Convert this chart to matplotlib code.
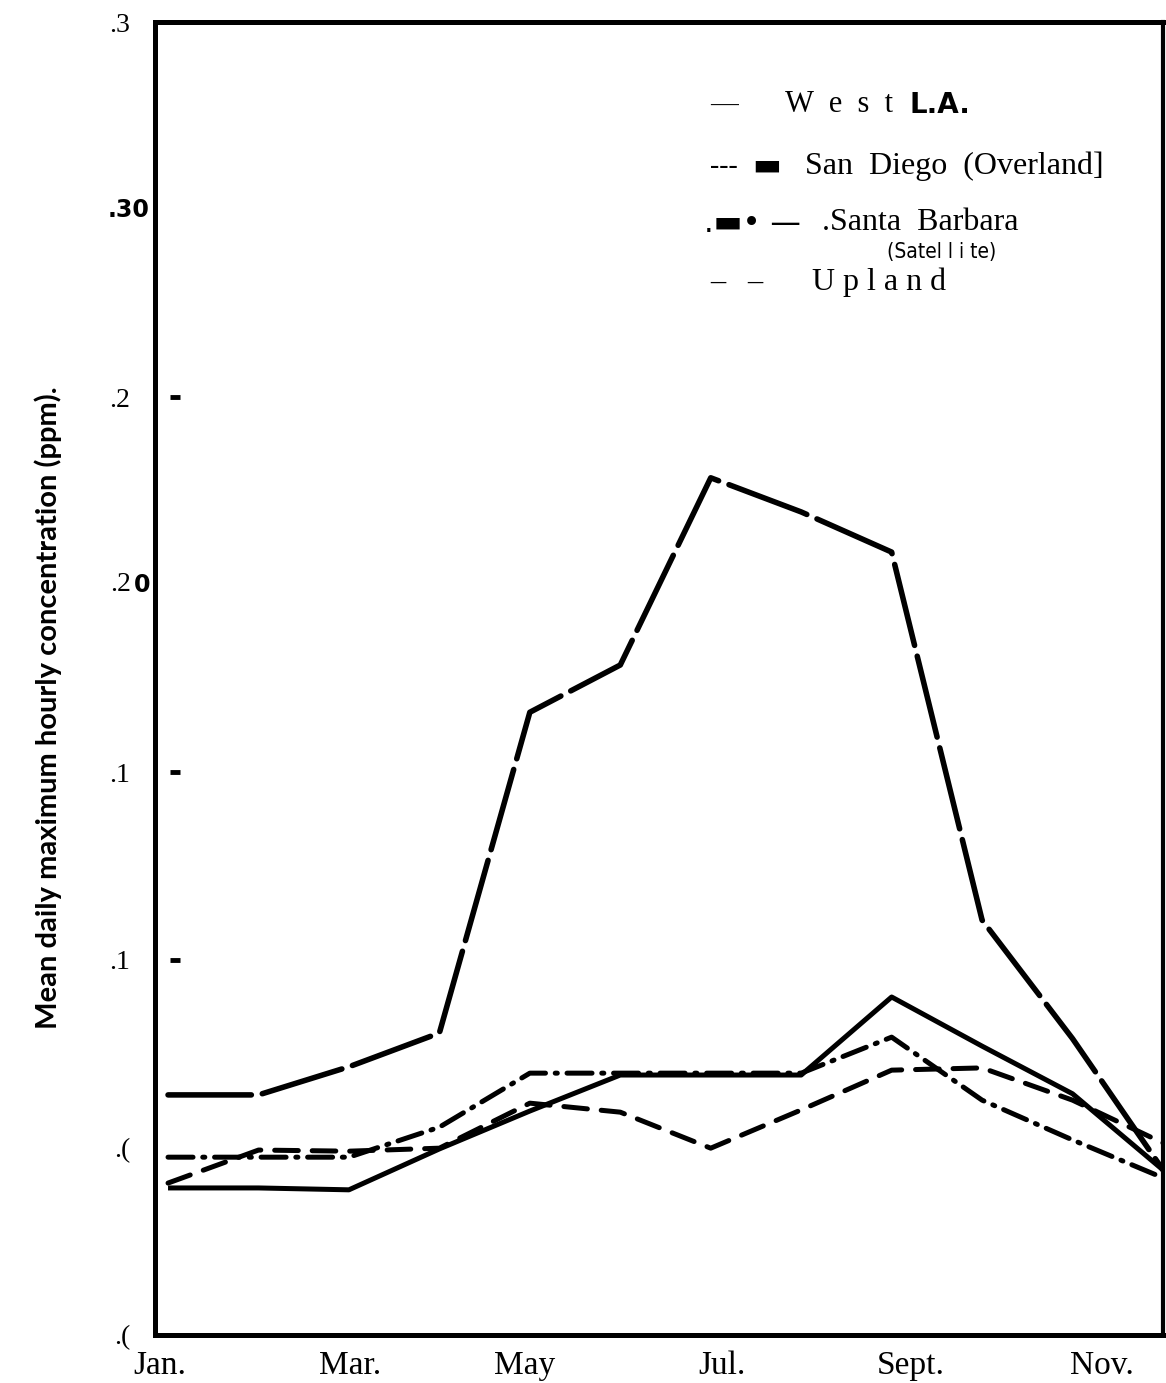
import numpy as np
import matplotlib
matplotlib.use('Agg')
from matplotlib import pyplot as plt
import matplotlib.transforms as mtransforms

# months 1..12 (Jan..Dec)
months = np.arange(1, 13)

west_la = [0.0392, 0.0392, 0.0387, 0.0496, 0.0597, 0.0693, 0.0693, 0.0693, 0.0901, 0.0770, 0.0643, 0.0440]
san_diego = [0.0640, 0.0640, 0.0715, 0.0805, 0.1660, 0.1786, 0.2285, 0.2194, 0.2087, 0.1106, 0.0790, 0.0440]
santa_barbara = [0.0474, 0.0474, 0.0474, 0.0554, 0.0698, 0.0698, 0.0698, 0.0698, 0.0794, 0.0626, 0.0520, 0.0419]
upland = [0.0405, 0.0493, 0.0490, 0.0498, 0.0618, 0.0594, 0.0498, 0.0600, 0.0706, 0.0712, 0.0626, 0.0512]

x_labels = ['Jan.', 'Mar.', 'May', 'Jul.', 'Sept.', 'Nov.']
x_label_pos = [0.91, 3.01, 4.94, 7.12, 9.21, 11.32]
y_ticks = [0.0, 0.05, 0.10, 0.15, 0.20, 0.25, 0.30, 0.35]
y_labels = ['.(', '.(', '.1', '.1', '', '.2', '', '.3']
inner_marks = [0.10, 0.15, 0.25]

plt.rcParams['lines.scale_dashes'] = False

W, H = 1166, 1383
fig = plt.figure(figsize=(W / 100, H / 100), dpi=100)
ax = fig.add_axes([155 / W, 1 - 1335 / H, (1163 - 155) / W, (1335 - 22) / H])

lw = 3.6
ax.plot(months, west_la, color='black', lw=lw, solid_capstyle='butt')
ax.plot(months, san_diego, color='black', lw=4.0, dashes=(60, 8), dash_capstyle='round')
ax.plot(months, santa_barbara, color='black', lw=lw, dashes=(18, 7, 1.5, 7), dash_capstyle='round')
ax.plot(months, upland, color='black', lw=lw, dashes=(17, 10), dash_capstyle='round')

# short marks just inside the left axis
trans = mtransforms.blended_transform_factory(ax.transAxes, ax.transData)
ax.hlines(inner_marks, 0.015, 0.025, transform=trans, color='black', lw=3.5)

ax.set_xlim(0.856, 12.0)
ax.set_ylim(0.0, 0.35)

for s in ax.spines.values():
    s.set_linewidth(3.6)
ax.spines['right'].set_linewidth(3.0)

ax.set_xticks(x_label_pos)
ax.set_xticklabels(x_labels, family='Liberation Serif', fontsize=24)
ax.set_yticks(y_ticks)
ax.set_yticklabels(y_labels, family='Liberation Serif', fontsize=20)
ax.tick_params(axis='both', length=0)
ax.tick_params(axis='y', pad=18)
ax.tick_params(axis='x', pad=11)

# the two odd labels, partly bold
ax.text(-0.005, 0.30, '.30', transform=trans, ha='right', va='center',
        family='DejaVu Sans', fontweight='bold', fontsize=17)
ax.text(-0.024, 0.20, '.2', transform=trans, ha='right', va='center',
        family='Liberation Serif', fontsize=20)
ax.text(-0.005, 0.20, '0', transform=trans, ha='right', va='center',
        family='DejaVu Sans', fontweight='bold', fontsize=17)

fig.text(48 / W, 1 - 708 / H, 'Mean daily maximum hourly concentration (ppm).',
         rotation=90, ha='center', va='center', family='Lato', fontweight='bold', fontsize=21)

# legend, typed like the original
serif = 'Liberation Serif'
fig.text(710 / W, 1 - 105 / H, '\u2014', family=serif, fontsize=20, va='center')
fig.text(785 / W, 1 - 105 / H, 'W  e  s  t', family=serif, fontsize=22, va='center')
fig.text(910 / W, 1 - 105 / H, 'L.A.', family='DejaVu Sans', fontweight='bold', fontsize=20, va='center')

fig.text(710 / W, 1 - 166 / H, '---', family=serif, fontsize=20, va='center')
fig.text(752 / W, 1 - 166 / H, '\u25ac', family='DejaVu Sans', fontsize=22, va='center')
fig.text(805 / W, 1 - 166 / H, 'San  Diego  (Overland]', family=serif, fontsize=23, va='center')

fig.text(704 / W, 1 - 223 / H, '.\u25ac\u2022 \u2014', family='DejaVu Sans', fontsize=22, va='center')
fig.text(822 / W, 1 - 223 / H, '.Santa  Barbara', family=serif, fontsize=23, va='center')
fig.text(887 / W, 1 - 252 / H, '(Satel l i te)', family='DejaVu Sans', fontsize=15, va='center',
         fontstretch='condensed')

fig.text(710 / W, 1 - 282 / H, '\u2013   \u2013', family=serif, fontsize=22, va='center')
fig.text(812 / W, 1 - 282 / H, 'U p l a n d', family=serif, fontsize=23, va='center')

fig.savefig('out.png', dpi=100)
